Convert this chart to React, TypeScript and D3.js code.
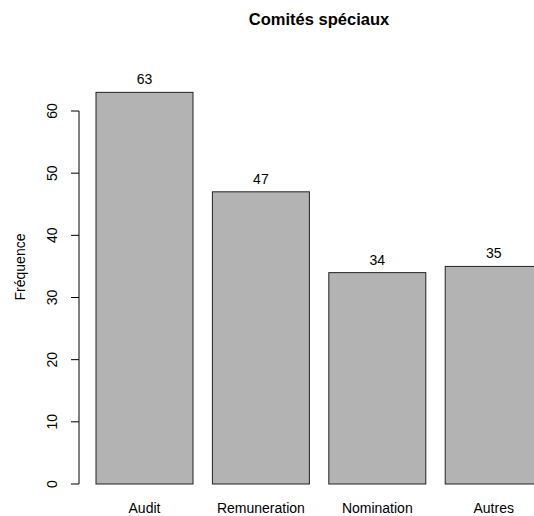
import React from "react";
import * as d3 from "d3";

const categories = ["Audit", "Remuneration", "Nomination", "Autres"];
const values = [63, 47, 34, 35];
const yTicks = [0, 10, 20, 30, 40, 50, 60];

const title = "Comités spéciaux";
const yLabel = "Fréquence";

export default function App() {
  const width = 534;
  const height = 516;
  const font = "'Liberation Sans', Arial, Helvetica, sans-serif";

  // R barplot units: bar i spans [0.2 + 1.2*i, 1.2 + 1.2*i]
  const x = d3.scaleLinear().domain([0.2, 1.2]).range([96, 193]);
  const y = d3.scaleLinear().domain([0, 60]).range([484, 111]);

  const axisX = 79;

  return (
    <svg
      width={width}
      height={height}
      style={{ position: "absolute", left: 0, top: 0, background: "#fff" }}
      fontFamily={font}
    >
      <text x={319} y={25} textAnchor="middle" fontSize={16.5} fontWeight="bold" fill="#000">
        {title}
      </text>

      {/* bars */}
      {values.map((v, i) => {
        const l = 0.2 + 1.2 * i;
        const x0 = x(l);
        const x1 = x(l + 1);
        return (
          <g key={categories[i]}>
            <rect
              x={x0}
              y={y(v)}
              width={x1 - x0}
              height={y(0) - y(v)}
              fill="#b3b3b3"
              stroke="#222"
              strokeWidth={1}
            />
            <text x={(x0 + x1) / 2} y={y(v) - 8} textAnchor="middle" fontSize={14} fill="#000">
              {v}
            </text>
            <text x={(x0 + x1) / 2} y={513} textAnchor="middle" fontSize={14} fill="#000">
              {categories[i]}
            </text>
          </g>
        );
      })}

      {/* y axis */}
      <line x1={axisX} x2={axisX} y1={y(0)} y2={y(60)} stroke="#000" />
      {yTicks.map((t) => (
        <g key={t}>
          <line x1={axisX - 8} x2={axisX} y1={y(t)} y2={y(t)} stroke="#000" />
          <text
            transform={`translate(${57},${y(t)}) rotate(-90)`}
            textAnchor="middle"
            fontSize={14}
            fill="#000"
          >
            {t}
          </text>
        </g>
      ))}

      <text
        transform={`translate(${25},${267}) rotate(-90)`}
        textAnchor="middle"
        fontSize={14}
        fill="#000"
      >
        {yLabel}
      </text>
    </svg>
  );
}
